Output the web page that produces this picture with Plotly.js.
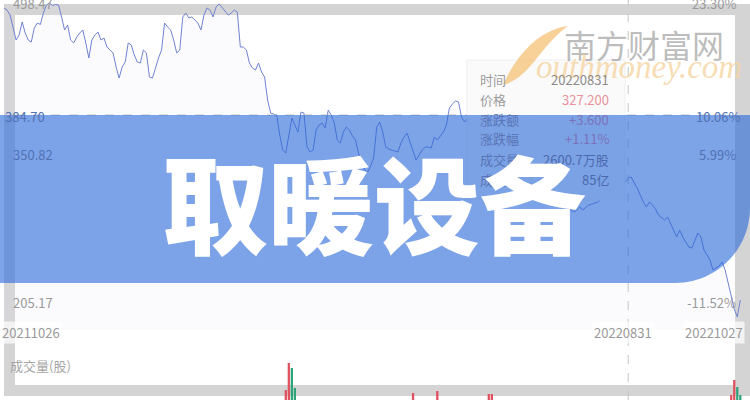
<!DOCTYPE html>
<html><head><meta charset="utf-8">
<script src="https://cdn.plot.ly/plotly-3.0.1.min.js"></script>
<style>html,body{margin:0;padding:0;background:#fff}#chart{width:750px;height:400px}</style>
</head><body><div id="chart"></div>
<script>
// ---- data ----
// daily closing prices, trading-day index 0 = 20211026 ... 243 = 20221027
const price = [
493.6,491.6,486.7,474.0,462.3,467.2,479.9,469.1,462.3,460.3,
474.0,478.9,477.5,488.7,496.5,498.47,496.0,497.0,496.5,484.8,
472.1,477.0,462.3,459.4,465.2,469.1,472.1,459.4,444.7,462.3,
467.2,470.1,462.3,464.2,455.4,452.5,449.6,435.9,425.1,435.9,
440.8,459.4,457.4,447.6,440.8,439.8,452.5,449.6,426.1,425.1,
435.9,444.7,452.5,478.9,475.0,472.1,462.3,449.6,452.5,484.8,
488.7,483.8,484.8,481.8,478.9,472.1,486.7,493.6,491.6,484.8,
494.6,497.5,493.6,489.7,486.7,488.7,491.6,489.7,455.4,455.4,
452.5,439.8,434.9,433.0,439.8,431.0,426.1,403.6,390.9,389.9,
389.0,369.4,354.7,351.8,369.4,386.0,379.2,372.3,391.8,390.9,
357.6,352.8,354.7,374.3,379.2,381.1,376.3,393.8,389.0,381.1,
364.5,361.6,372.3,377.2,374.3,368.4,364.5,351.8,343.0,335.2,
333.2,339.1,347.0,377.2,382.1,372.3,357.6,355.7,354.7,353.8,
352.8,361.6,367.5,371.4,362.6,352.8,345.0,349.9,354.7,357.6,
357.7,356.7,367.5,364.5,368.4,372.3,379.2,395.8,399.7,402.7,
401.7,387.0,382.1,386.0,379.2,376.3,369.4,371.4,374.3,367.5,
359.6,352.8,354.7,358.6,362.6,354.7,349.9,345.0,340.1,341.1,
345.0,339.1,335.2,329.3,325.4,328.3,330.3,324.4,320.5,316.6,
310.7,312.7,315.6,309.8,305.9,301.9,298.0,296.1,294.1,296.1,
299.0,296.1,299.0,301.0,301.9,302.9,303.9,306.8,308.8,313.7,
315.6,317.6,318.6,320.5,322.5,323.6,327.2,328.3,322.5,317.6,
310.7,303.9,299.0,303.9,301.0,297.1,291.2,288.3,286.3,289.2,
283.4,276.5,269.7,276.5,269.7,264.8,259.9,258.9,266.8,273.6,
269.7,257.0,252.1,247.3,237.4,239.4,241.3,245.2,237.4,224.7,
211.0,199.3,191.5,208.0
];
const day = price.map((_, i) => i); // trading-day index

const volDay  = [93, 94, 95, 96, 135, 143, 160, 161, 240, 241, 242, 243];
const volume  = [5000, 10400, 9400, 5400, 4400, 4800, 4200, 4200, 4000, 7000, 5600, 4000]; // 万股
const volRise = [true, true, false, false, true, true, true, true, true, true, false, false];

const priceTicks    = [498.47, 384.70, 350.82, 205.17];
const priceTickText = ['498.47', '384.70', '350.82', '205.17'];
const pctTickText   = ['23.30%', '10.06%', '5.99%', '-11.52%'];

const dateTicks  = [0, 206, 243];
const dateLabels = ['20211026', '20220831', '20221027'];

const tipLabels = ['时间', '价格', '涨跌额', '涨跌幅', '成交量', '成交额'];
const tipValues = ['20220831', '327.200', '+3.600', '+1.11%', '2600.7万股', '85亿'];
const titleText = '取暖设备';

// ---- helpers (pixel -> paper) ----
const W = 750, H = 400;
const px = v => v / W, py = v => 1 - v / H;
const bannerTop = 115, bannerBot = 283, r = 75;
const font = '"Noto Sans CJK SC", "Noto Sans", sans-serif';

const traces = [
  { x: day, y: price, type: 'scatter', mode: 'lines', xaxis: 'x', yaxis: 'y',
    line: { color: '#7083d2', width: 1 }, fill: 'tozeroy', fillcolor: 'rgba(225,230,250,0.15)',
    hoverinfo: 'skip' },
  { x: volDay, y: volume, type: 'bar', xaxis: 'x', yaxis: 'y2', width: 0.75,
    marker: { color: volRise.map(u => u ? '#e0505e' : '#2fa37a') }, hoverinfo: 'skip' }
];

const P = (x, y) => `${px(x)},${py(y)}`;
const shapes = [
  // grey frame
  { type: 'rect', xref: 'paper', yref: 'paper', layer: 'below', x0: px(4), x1: px(750), y0: py(396), y1: py(4),
    fillcolor: '#d4d4d4', line: { width: 0 } },
  { type: 'rect', xref: 'paper', yref: 'paper', layer: 'below', x0: px(15), x1: px(735), y0: py(385), y1: py(15),
    fillcolor: '#ffffff', line: { width: 0 } },
  // reference dashed line
  { type: 'line', xref: 'paper', yref: 'paper', x0: px(15), x1: px(735), y0: py(115), y1: py(115),
    line: { color: '#c4c4c4', width: 1, dash: 'dash' } },
  // crosshair
  { type: 'line', xref: 'x', yref: 'paper', x0: dateTicks[1], x1: dateTicks[1], y0: 0, y1: 1,
    line: { color: '#c6c6c6', width: 1, dash: 'dash' } },
  // tooltip box
  { type: 'rect', xref: 'paper', yref: 'paper', x0: px(467), x1: px(625), y0: py(200), y1: py(60),
    fillcolor: 'rgba(250,250,250,0.94)', line: { color: 'rgba(240,240,240,1)', width: 1 } },
  // watermark swoosh (the "S")
  { type: 'path', xref: 'paper', yref: 'paper',
    path: `M ${P(568, 26)} C ${P(538, 30)} ${P(516, 56)} ${P(503, 85)} C ${P(530, 78)} ${P(540, 46)} ${P(568, 26)} Z`,
    fillcolor: 'rgba(245,190,110,0.7)', line: { width: 0 } },
  // blue banner
  { type: 'path', xref: 'paper', yref: 'paper',
    path: `M 0,${py(bannerTop)} L 1,${py(bannerTop)} L 1,${py(bannerBot - r)} ` +
          `C 1,${py(bannerBot - r + 0.5523 * r)} ${px(W - r + 0.5523 * r)},${py(bannerBot)} ${px(W - r)},${py(bannerBot)} ` +
          `L 0,${py(bannerBot)} Z`,
    fillcolor: 'rgba(40,103,217,0.6)', line: { width: 0 } }
];

const underBanner = yPix => yPix >= bannerTop && yPix <= bannerBot;
const annotations = [];
const A = o => annotations.push(Object.assign({ showarrow: false, xanchor: 'center', yanchor: 'middle' }, o));

// watermark
A({ xref: 'paper', yref: 'paper', x: px(644), y: py(44), text: '南方财富网',
  font: { family: font, size: 32, color: 'rgba(150,150,150,0.65)', weight: 400 } });
A({ xref: 'paper', yref: 'paper', x: px(639), y: py(67), text: 'outhmoney.com',
  font: { family: '"Liberation Serif", serif', size: 33, color: 'rgba(246,212,160,0.8)', style: 'italic' } });

// price / pct labels
priceTicks.forEach((v, i) => {
  const yPix = (501.4 - v) / 0.9777;
  const c = underBanner(yPix) || i === 1 ? '#5172b4' : '#9a9a9a';
  A({ xref: 'paper', yref: 'y', x: px(i === 1 ? 3 : 11), y: v, xanchor: 'left',
    yshift: i === 1 ? 3 : 0, text: priceTickText[i], font: { family: font, size: 13, color: c } });
  A({ xref: 'paper', yref: 'y', x: px(i === 1 ? 742 : 738), y: v, xanchor: 'right',
    yshift: i === 1 ? 3 : 0, text: pctTickText[i], font: { family: font, size: 13, color: c } });
});

// date labels
const dateAnchor = ['left', 'center', 'right'];
const dateShift = [-4, -5, 5];
dateTicks.forEach((d, i) => {
  A({ xref: 'x', yref: 'paper', x: d, y: py(332), xanchor: dateAnchor[i],
    xshift: dateShift[i], text: dateLabels[i], bgcolor: 'rgba(255,255,255,0.7)',
    font: { family: font, size: 13, color: '#999' } });
});

A({ xref: 'paper', yref: 'paper', x: px(8), y: py(365), xanchor: 'left',
  text: '成交量(股)', font: { family: font, size: 13, color: '#a5a5a5' } });

// tooltip rows
tipLabels.forEach((lab, i) => {
  const yPix = 79 + 20 * i;
  const ub = underBanner(yPix);
  const valColor = (i >= 1 && i <= 3) ? (ub ? '#7a72ba' : '#e8919a') : (ub ? '#4c69ad' : '#8c8c8c');
  A({ xref: 'paper', yref: 'paper', x: px(478), y: py(yPix), xanchor: 'left',
    text: lab, font: { family: font, size: 13, color: ub ? '#5874b4' : '#9c9c9c' } });
  A({ xref: 'paper', yref: 'paper', x: px(611), y: py(yPix), xanchor: 'right',
    text: tipValues[i], font: { family: font, size: 13, color: valColor } });
});

// big title
A({ xref: 'paper', yref: 'paper', x: px(374), y: py(200), text: titleText,
  font: { family: font, size: 106, color: '#ffffff', weight: 900 } });

const layout = {
  width: W, height: H, margin: { l: 0, r: 0, t: 0, b: 0 },
  paper_bgcolor: '#ffffff', plot_bgcolor: 'rgba(0,0,0,0)', showlegend: false,
  xaxis: { range: [-1.32, 246.2], domain: [0, 1], visible: false, fixedrange: true },
  yaxis: { range: [178.76, 501.4], domain: [0.175, 1], visible: false },
  yaxis2: { range: [3000, 12000], domain: [0, 0.1125], visible: false },
  shapes, annotations
};

Plotly.newPlot('chart', traces, layout, { staticPlot: true });
</script></body></html>
